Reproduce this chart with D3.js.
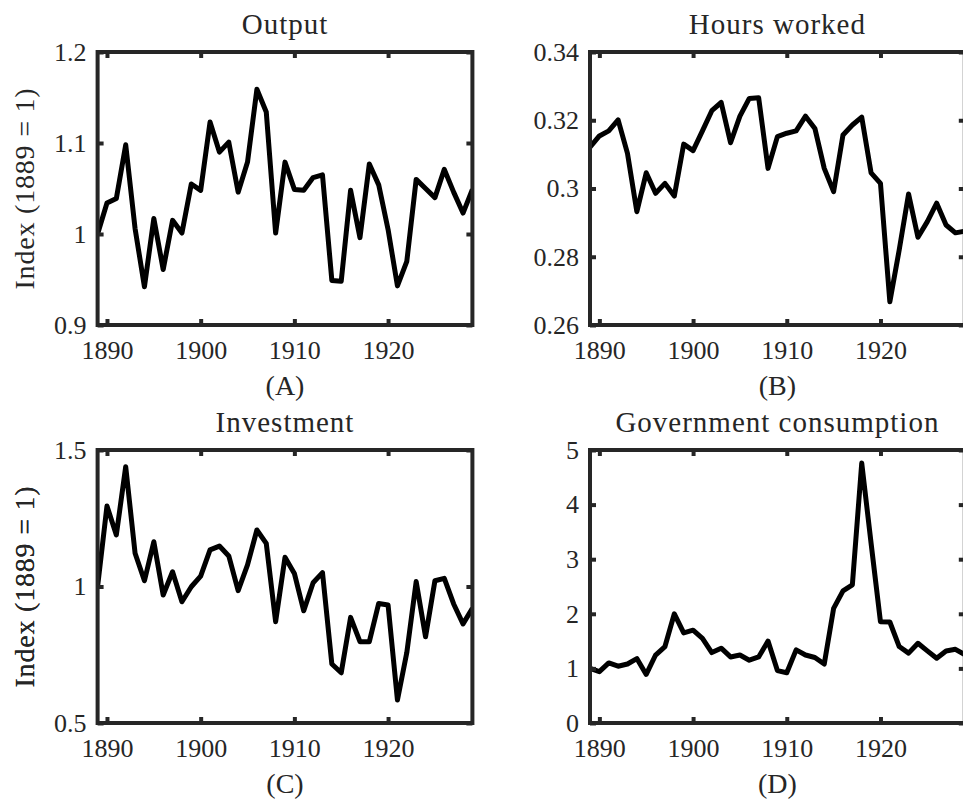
<!DOCTYPE html>
<html>
<head>
<meta charset="utf-8">
<script src="https://cdn.jsdelivr.net/npm/d3@7"></script>
<style>
  body { margin: 0; background: #fff; }
  svg { display: block; }
  text { font-family: "Liberation Serif", "DejaVu Serif", serif; fill: #262626; }
</style>
</head>
<body>
<div id="chart"></div>
<script>
const years = [1889, 1890, 1891, 1892, 1893, 1894, 1895, 1896, 1897, 1898,
  1899, 1900, 1901, 1902, 1903, 1904, 1905, 1906, 1907, 1908,
  1909, 1910, 1911, 1912, 1913, 1914, 1915, 1916, 1917, 1918,
  1919, 1920, 1921, 1922, 1923, 1924, 1925, 1926, 1927, 1928, 1929];

const output = [1.000, 1.034, 1.039, 1.098, 1.006, 0.942, 1.017, 0.961, 1.015, 1.001,
  1.055, 1.048, 1.123, 1.090, 1.101, 1.046, 1.079, 1.159, 1.134, 1.001,
  1.079, 1.049, 1.048, 1.062, 1.065, 0.949, 0.948, 1.048, 0.996, 1.077,
  1.054, 1.005, 0.943, 0.970, 1.060, 1.050, 1.040, 1.071, 1.046, 1.023, 1.049];

const hours = [0.3121, 0.3154, 0.3169, 0.3201, 0.3103, 0.2932, 0.3046, 0.2986, 0.3015, 0.2978,
  0.3130, 0.3111, 0.3169, 0.3228, 0.3252, 0.3134, 0.3212, 0.3264, 0.3266, 0.3059,
  0.3152, 0.3162, 0.3169, 0.3212, 0.3176, 0.3059, 0.2991, 0.3157, 0.3186, 0.3209,
  0.3046, 0.3015, 0.2668, 0.2820, 0.2984, 0.2857, 0.2903, 0.2957, 0.2893, 0.2870, 0.2875];

const investment = [1.000, 1.295, 1.189, 1.439, 1.122, 1.021, 1.164, 0.969, 1.054, 0.944,
  0.999, 1.038, 1.134, 1.148, 1.112, 0.985, 1.079, 1.207, 1.158, 0.871,
  1.107, 1.048, 0.911, 1.014, 1.051, 0.716, 0.684, 0.887, 0.798, 0.798,
  0.938, 0.932, 0.584, 0.758, 1.018, 0.816, 1.021, 1.030, 0.936, 0.863, 0.920];

const govCons = [1.00, 0.94, 1.10, 1.04, 1.08, 1.18, 0.89, 1.245, 1.40, 2.00,
  1.65, 1.70, 1.55, 1.29, 1.37, 1.21, 1.245, 1.15, 1.21, 1.50,
  0.96, 0.92, 1.34, 1.245, 1.20, 1.08, 2.10, 2.42, 2.53, 4.76,
  3.29, 1.855, 1.85, 1.40, 1.28, 1.46, 1.32, 1.185, 1.32, 1.35, 1.25];

const xTicks = [1890, 1900, 1910, 1920];
const outputTicks = [0.9, 1, 1.1, 1.2];
const hoursTicks = [0.26, 0.28, 0.3, 0.32, 0.34];
const investTicks = [0.5, 1, 1.5];
const govTicks = [0, 1, 2, 3, 4, 5];

const panels = [
  { title: 'Output', tag: '(A)', values: output, domain: [0.9, 1.2], ticks: outputTicks, left: 97.6, top: 52, ylabel: true },
  { title: 'Hours worked', tag: '(B)', values: hours, domain: [0.26, 0.34], ticks: hoursTicks, left: 590, top: 52, ylabel: false },
  { title: 'Investment', tag: '(C)', values: investment, domain: [0.5, 1.5], ticks: investTicks, left: 97.6, top: 450, ylabel: true },
  { title: 'Government consumption', tag: '(D)', values: govCons, domain: [0, 5], ticks: govTicks, left: 590, top: 450, ylabel: true }
];

const W = 963, H = 800;
const pw = 374.8, ph = 273;
const axisColor = '#262626';

const svg = d3.select('#chart').append('svg')
  .attr('width', W)
  .attr('height', H);

panels.forEach((p, idx) => {
  const g = svg.append('g').attr('transform', `translate(${p.left}, ${p.top})`);

  const x = d3.scaleLinear().domain([1889, 1929]).range([0, pw]);
  const y = d3.scaleLinear().domain(p.domain).range([ph, 0]);

  const clipId = 'clip' + idx;
  g.append('clipPath').attr('id', clipId)
    .append('rect').attr('width', pw).attr('height', ph);

  const line = d3.line()
    .x((d, i) => x(years[i]))
    .y(d => y(d));

  g.append('path')
    .datum(p.values)
    .attr('clip-path', `url(#${clipId})`)
    .attr('fill', 'none')
    .attr('stroke', '#000')
    .attr('stroke-width', 5)
    .attr('stroke-linejoin', 'round')
    .attr('d', line);

  // axes, ticks pointing inward
  g.append('g')
    .attr('transform', `translate(0, ${ph})`)
    .call(d3.axisBottom(x).tickValues(xTicks).tickFormat(d3.format('d'))
      .tickSize(-6).tickSizeOuter(0).tickPadding(16));

  g.append('g')
    .call(d3.axisTop(x).tickValues(xTicks).tickFormat('')
      .tickSize(-6).tickSizeOuter(0));

  g.append('g')
    .call(d3.axisLeft(y).tickValues(p.ticks).tickFormat(d => String(+d.toFixed(2)))
      .tickSize(-6).tickSizeOuter(0).tickPadding(11));

  g.append('g')
    .attr('transform', `translate(${pw}, 0)`)
    .call(d3.axisRight(y).tickValues(p.ticks).tickFormat('')
      .tickSize(-6).tickSizeOuter(0));

  g.selectAll('.domain').remove();
  g.selectAll('.tick line')
    .attr('stroke', axisColor)
    .attr('stroke-width', 4);
  g.selectAll('.tick text')
    .style('font-family', '"Liberation Serif", serif')
    .style('font-size', '26px')
    .attr('fill', axisColor);

  g.append('rect')
    .attr('width', pw)
    .attr('height', ph)
    .attr('fill', 'none')
    .attr('stroke', axisColor)
    .attr('stroke-width', 4);

  g.append('text')
    .attr('x', pw / 2)
    .attr('y', -18)
    .attr('text-anchor', 'middle')
    .style('font-size', '29px')
    .style('letter-spacing', '1px')
    .text(p.title);

  g.append('text')
    .attr('x', pw / 2)
    .attr('y', ph + 70)
    .attr('text-anchor', 'middle')
    .style('font-size', '28px')
    .text(p.tag);

  if (p.ylabel) {
    g.append('text')
      .attr('transform', `translate(${34 - p.left}, ${ph / 2}) rotate(-90)`)
      .attr('text-anchor', 'middle')
      .style('font-size', '28px')
      .style('letter-spacing', '0.8px')
      .text('Index (1889 = 1)');
  }
});
</script>
</body>
</html>
